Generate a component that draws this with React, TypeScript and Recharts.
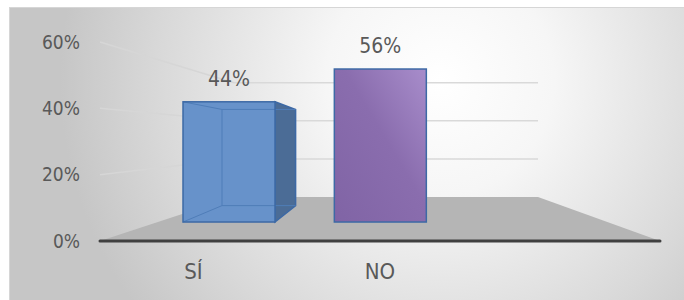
import { Bar, ComposedChart, LabelList, Line, XAxis, YAxis } from 'recharts'

const categories = ['SÍ', 'NO', '']
const values: (number | null)[] = [0.44, 0.56, null]
const ticks = [0, 0.2, 0.4, 0.6]

const data = categories.map((name, i) => ({ name, value: values[i] }))

const W = 684
const H = 300
const FONT = "'DejaVu Sans Condensed', 'DejaVu Sans', sans-serif"
const TEXT = '#595959'

// front plane of the plot (where the y ticks live)
const plot = { left: 100, right: 660, top: 42, bottom: 241 }
// back wall of the 3d box
const wall = { left: 234, right: 538, bottom: 197, perUnit: 190.5 }

// perspective for the columns: vanishing point and back/front ratio
const VX = 378
const VY = 140
const DEPTH = 0.8

const frontY = (v: number) => plot.bottom - (v / 0.6) * (plot.bottom - plot.top)
const wallY = (v: number) => wall.bottom - v * wall.perUnit

const pct = (v: any) => (v == null ? '' : `${Math.round(v * 100)}%`)

const Backdrop = () => (
  <svg width={W} height={H} style={{ position: 'absolute', left: 0, top: 0 }}>
    <defs>
      <radialGradient id="bgGrad" gradientUnits="userSpaceOnUse" cx={440} cy={80} r={380}>
        <stop offset="0%" stopColor="#ffffff" />
        <stop offset="30%" stopColor="#f6f6f6" />
        <stop offset="75%" stopColor="#d8d8d8" />
        <stop offset="100%" stopColor="#c6c6c6" />
      </radialGradient>
    </defs>
    <rect x={9.5} y={7.5} width={680} height={300} fill="url(#bgGrad)" stroke="#d6d6d6" />
    {/* floor */}
    <polygon
      points={`${plot.left},${plot.bottom} ${plot.right},${plot.bottom} ${wall.right},${wall.bottom} ${wall.left},${wall.bottom}`}
      fill="#b5b5b5"
    />
    {/* back wall gridlines */}
    {ticks.slice(1).map((t) => (
      <line key={`b${t}`} x1={wall.left} x2={wall.right} y1={wallY(t)} y2={wallY(t)} stroke="#d9d9d9" strokeWidth={1.5} />
    ))}
    {/* side wall gridlines */}
    {ticks.slice(1).map((t) => (
      <line key={`s${t}`} x1={plot.left} x2={wall.left} y1={frontY(t)} y2={wallY(t)} stroke="#d6d6d6" strokeWidth={1.5} />
    ))}
  </svg>
)

const Box3D = (props: any) => {
  const { x, y, width, height, index } = props
  if (height == null || isNaN(y) || !width) return null
  const back = (px: number, py: number) => [VX + (px - VX) * DEPTH, VY + (py - VY) * DEPTH]
  const [btlx, btly] = back(x, y)
  const [btrx] = back(x + width, y)
  const [, bbly] = back(x, y + height)
  const edge = '#3d69a5'

  if (index === 0) {
    return (
      <g>
        {/* right side face */}
        {x + width < VX && (
          <polygon
            points={`${x + width},${y} ${btrx},${btly} ${btrx},${bbly} ${x + width},${y + height}`}
            fill="#4b6c96"
            stroke={edge}
            strokeWidth={1.5}
          />
        )}
        <rect x={x} y={y} width={width} height={height} fill="#6792ca" />
        {/* see-through inner edges */}
        <g stroke="#4f7db8" strokeWidth={1}>
          <line x1={btlx} y1={btly} x2={btlx} y2={bbly} />
          <line x1={btlx} y1={btly} x2={btrx} y2={btly} />
          <line x1={btlx} y1={bbly} x2={btrx} y2={bbly} />
          <line x1={x} y1={y} x2={btlx} y2={btly} />
          <line x1={x} y1={y + height} x2={btlx} y2={bbly} />
        </g>
        <rect x={x} y={y} width={width} height={height} fill="none" stroke={edge} strokeWidth={1.5} />
      </g>
    )
  }

  return (
    <g>
      <defs>
        <linearGradient id="noGrad" x1="1" y1="0" x2="0" y2="1">
          <stop offset="0%" stopColor="#a88dcb" />
          <stop offset="45%" stopColor="#8a6dae" />
          <stop offset="100%" stopColor="#8064a5" />
        </linearGradient>
      </defs>
      <rect x={x} y={y} width={width} height={height} fill="url(#noGrad)" stroke={edge} strokeWidth={1.5} />
    </g>
  )
}

export default function App() {
  return (
    <div style={{ position: 'absolute', left: 0, top: 0, width: W, height: H }}>
      <Backdrop />
      <div style={{ position: 'absolute', left: 0, top: 0 }}>
        <ComposedChart width={W} height={H} data={data} margin={{ top: 42, right: 24, bottom: 29, left: 40 }}>
          <XAxis
            xAxisId="front"
            dataKey="name"
            height={30}
            axisLine={{ stroke: '#404040', strokeWidth: 3, strokeLinecap: 'round' }}
            tickLine={false}
            tickMargin={16}
            tick={{ fill: TEXT, fontSize: 22, fontFamily: FONT }}
          />
          <XAxis xAxisId="bars" dataKey="name" hide height={0} padding={{ left: 53, right: 53 }} />
          <YAxis
            yAxisId="front"
            type="number"
            domain={[0, 0.6]}
            ticks={ticks}
            width={60}
            axisLine={false}
            tickLine={false}
            tickMargin={14}
            tickFormatter={pct}
            tick={{ fill: TEXT, fontSize: 19, fontFamily: FONT }}
          />
          {/* columns stand further back, so they get their own (shrunk) scale */}
          <YAxis yAxisId="bars" type="number" hide width={0} domain={[-0.0695, 0.6589]} allowDataOverflow />
          {/* invisible series so the front value axis gets its ticks */}
          <Line
            xAxisId="front"
            yAxisId="front"
            dataKey="value"
            stroke="none"
            dot={false}
            activeDot={false}
            legendType="none"
            isAnimationActive={false}
          />
          <Bar
            xAxisId="bars"
            yAxisId="bars"
            dataKey="value"
            barSize={92}
            shape={Box3D}
            isAnimationActive={false}
          >
            <LabelList
              dataKey="value"
              position="top"
              offset={16}
              formatter={pct}
              fill={TEXT}
              fontSize={21}
              fontFamily={FONT}
            />
          </Bar>
        </ComposedChart>
      </div>
    </div>
  )
}
